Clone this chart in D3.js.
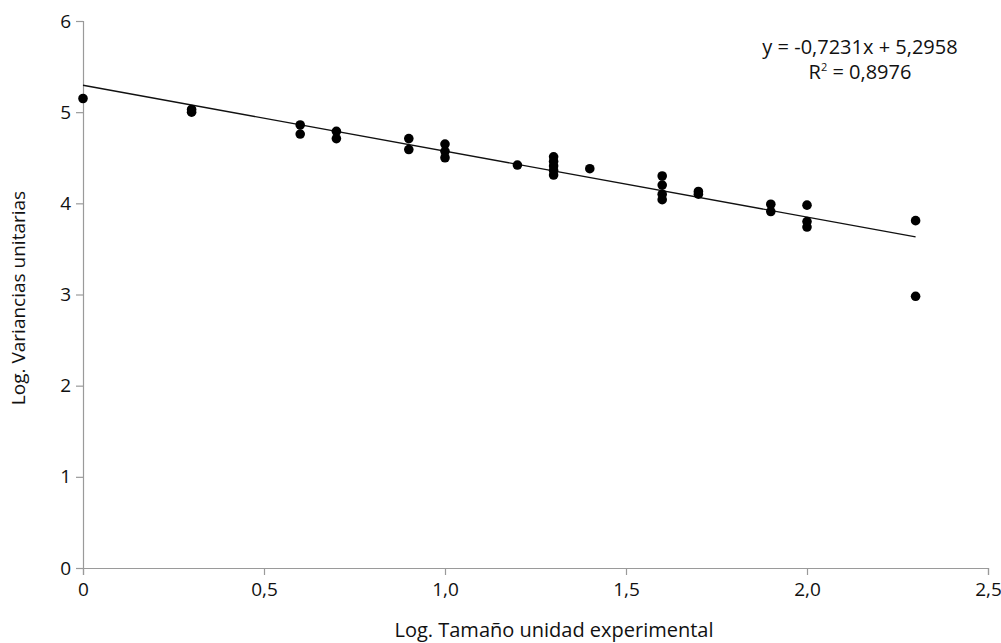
<!DOCTYPE html>
<html>
<head>
<meta charset="utf-8">
<script src="https://cdn.jsdelivr.net/npm/d3@7"></script>
<style>
  body { margin: 0; background: #fff; }
  text { font-family: "Open Sans", "Noto Sans", sans-serif; fill: #111; }
</style>
</head>
<body>
<svg></svg>
<script>
// log of plot size (x) and log of unit variance (y)
var logSize = [0, 0.3, 0.3, 0.6, 0.6, 0.7, 0.7, 0.9, 0.9, 1.0, 1.0, 1.0,
  1.2, 1.3, 1.3, 1.3, 1.3, 1.3, 1.4, 1.6, 1.6, 1.6, 1.6, 1.7, 1.7,
  1.9, 1.9, 2.0, 2.0, 2.0, 2.3, 2.3];
var logVariance = [5.15, 5.0, 5.03, 4.86, 4.76, 4.79, 4.71, 4.71, 4.59, 4.65, 4.57, 4.5,
  4.42, 4.51, 4.46, 4.41, 4.36, 4.31, 4.38, 4.3, 4.2, 4.1, 4.04, 4.13, 4.1,
  3.99, 3.91, 3.98, 3.8, 3.74, 3.81, 2.98];

// trend line from the figure
var slope = -0.7231;
var intercept = 5.2958;
var trendRange = [0, 2.3];

var xTicks = [0, 0.5, 1.0, 1.5, 2.0, 2.5];
var xTickLabels = ["0", "0,5", "1,0", "1,5", "2,0", "2,5"];
var yTicks = [0, 1, 2, 3, 4, 5, 6];

var makeTranslateString = function (x, y) {
  return "translate(" + x + "," + y + ")";
};

var screen = { width: 1001, height: 643 };
var margins = { left: 83, right: 13, top: 21, bottom: 75 };
var graph = {
  width: screen.width - margins.left - margins.right,
  height: screen.height - margins.top - margins.bottom
};

var svg = d3.select("svg").attr("width", screen.width).attr("height", screen.height);

var xScale = d3.scaleLinear().domain([0, 2.5]).range([0, graph.width]);
var yScale = d3.scaleLinear().domain([0, 6]).range([graph.height, 0]);

// axes
var xAxis = d3.axisBottom(xScale)
  .tickValues(xTicks)
  .tickSize(7)
  .tickPadding(5)
  .tickFormat(function (d, i) { return xTickLabels[i]; });
var yAxis = d3.axisLeft(yScale)
  .tickValues(yTicks)
  .tickSize(7)
  .tickPadding(5)
  .tickFormat(d3.format("d"));

var gx = svg.append("g")
  .attr("class", "axis")
  .attr("transform", makeTranslateString(margins.left, margins.top + graph.height))
  .call(xAxis);
var gy = svg.append("g")
  .attr("class", "axis")
  .attr("transform", makeTranslateString(margins.left, margins.top))
  .call(yAxis);

[gx, gy].forEach(function (g) {
  g.select(".domain").attr("stroke", "#9a9a9a").attr("stroke-width", 1.2);
  g.selectAll(".tick line").attr("stroke", "#9a9a9a").attr("stroke-width", 1.2);
  g.selectAll(".tick text").attr("font-size", 19).attr("fill", "#111")
    .style("font-family", '"Open Sans", sans-serif');
});
gx.selectAll(".tick text").attr("dy", "0.85em");

var plot = svg.append("g")
  .attr("id", "plot")
  .attr("transform", makeTranslateString(margins.left, margins.top));

// trend line
plot.append("line")
  .attr("x1", xScale(trendRange[0]))
  .attr("y1", yScale(slope * trendRange[0] + intercept))
  .attr("x2", xScale(trendRange[1]))
  .attr("y2", yScale(slope * trendRange[1] + intercept))
  .attr("stroke", "#111")
  .attr("stroke-width", 1.4);

// points
plot.selectAll("circle")
  .data(logSize)
  .enter()
  .append("circle")
  .attr("cx", function (d) { return xScale(d); })
  .attr("cy", function (d, i) { return yScale(logVariance[i]); })
  .attr("r", 4.8)
  .attr("fill", "#000");

// labels
svg.append("text")
  .attr("text-anchor", "middle")
  .attr("font-size", 20)
  .attr("transform", makeTranslateString(554, 637))
  .text("Log. Tamaño unidad experimental");

svg.append("text")
  .attr("text-anchor", "middle")
  .attr("font-size", 19)
  .attr("transform", "translate(25,298) rotate(-90)")
  .text("Log. Variancias unitarias");

// equation
var eq = svg.append("g").attr("transform", makeTranslateString(860, 0));
eq.append("text")
  .attr("text-anchor", "middle")
  .attr("y", 54)
  .attr("font-size", 20)
  .text("y = -0,7231x + 5,2958");
var r2 = eq.append("text")
  .attr("text-anchor", "middle")
  .attr("y", 79)
  .attr("font-size", 20);
r2.append("tspan").text("R");
r2.append("tspan").attr("font-size", 11).attr("dy", -8).text("2");
r2.append("tspan").attr("dy", 8).text(" = 0,8976");
</script>
</body>
</html>
